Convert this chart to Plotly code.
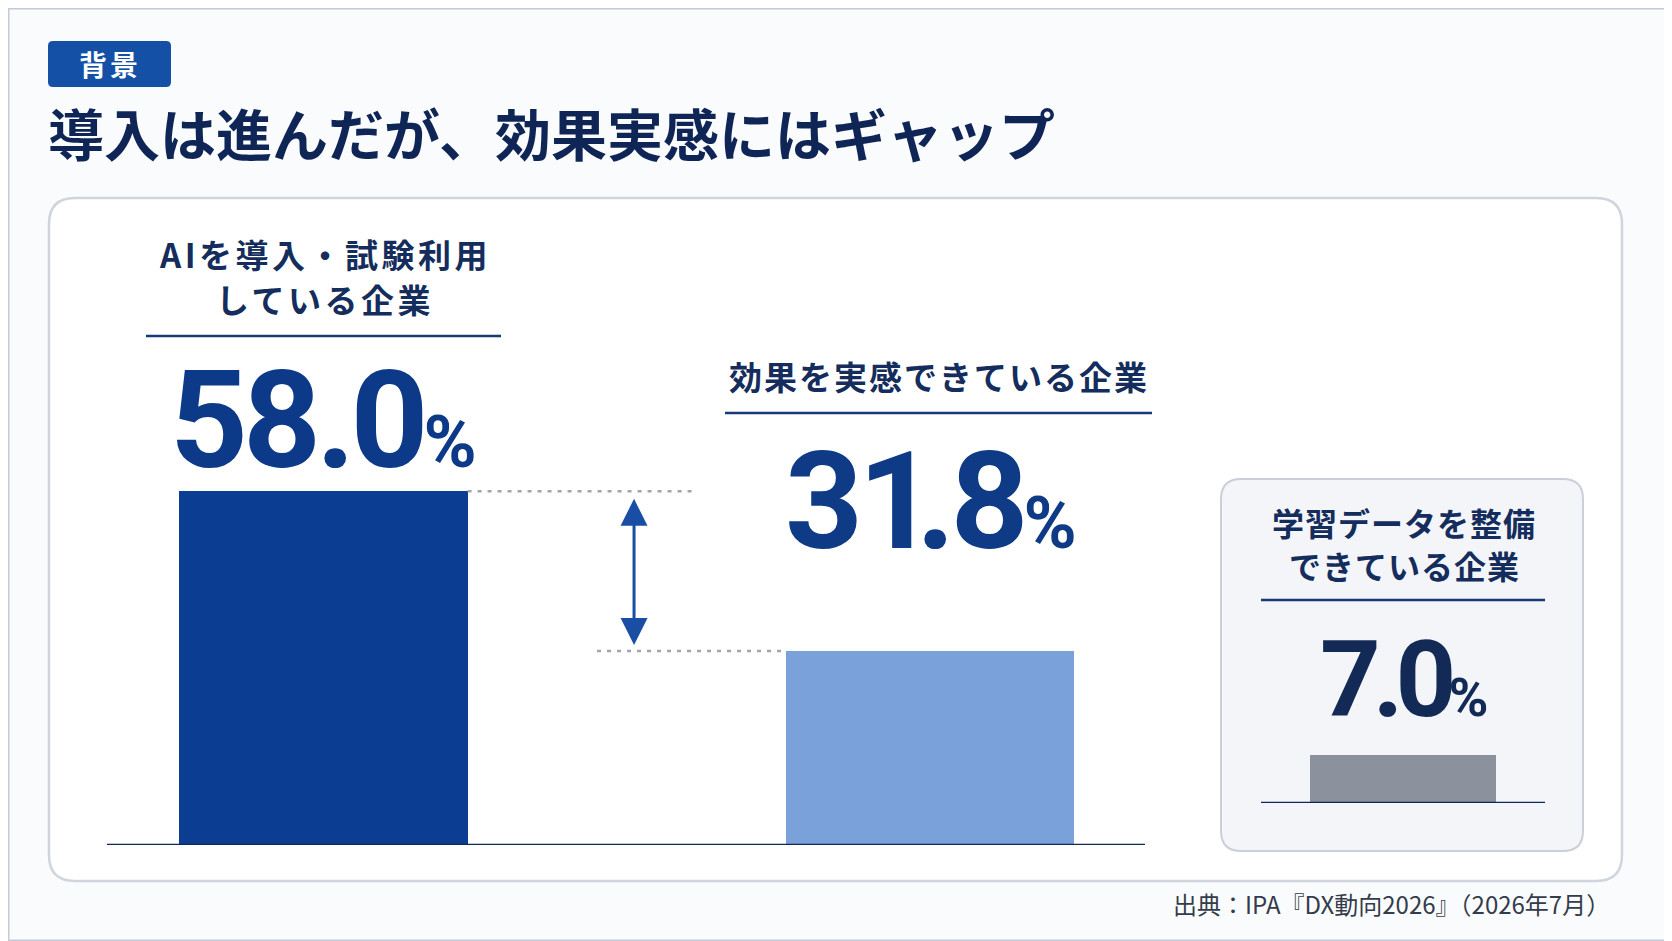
import plotly.graph_objects as go

# values
categories = ["AIを導入・試験利用している企業", "効果を実感できている企業"]
values = [58.0, 31.8]
bar_colors = ["#0b3d93", "#7aa1d9"]
small_category = ["学習データを整備できている企業"]
small_value = [7.0]

title = "導入は進んだが、効果実感にはギャップ"
tag = "背景"
label1 = ["AIを導入・試験利用", "している企業"]
label2 = "効果を実感できている企業"
label3 = ["学習データを整備", "できている企業"]
source = "出典：IPA『DX動向2026』（2026年7月）"

# the page body keeps its default 8px margin, so the figure is drawn
# 8px smaller and all positions below are given in window pixels
OFF = 8
W, H = 1672 - OFF, 941 - OFF
JP = "Noto Sans CJK JP"
NUM = "Roboto"
NAVY = "#142d5c"


def px(x):
    return (x - OFF) / W


def py(y):
    return 1 - (y - OFF) / H


def rrect(x0, y0, x1, y1, r):
    pts = [
        ("M", x0 + r, y0), ("L", x1 - r, y0), ("Q", x1, y0), ("", x1, y0 + r),
        ("L", x1, y1 - r), ("Q", x1, y1), ("", x1 - r, y1),
        ("L", x0 + r, y1), ("Q", x0, y1), ("", x0, y1 - r),
        ("L", x0, y0 + r), ("Q", x0, y0), ("", x0 + r, y0),
    ]
    return " ".join("%s%.5f,%.5f" % (c, px(x), py(y)) for c, x, y in pts) + " Z"


def spaced(s, ls):
    return '<span style="letter-spacing:%spx">%s</span>' % (ls, s)


def pct(v, big_ls, pct_size, one_ls=None):
    txt = "%.1f" % v
    if one_ls is None:
        num = spaced(txt, big_ls)
    else:
        # the "1" is a narrow glyph in the reference, tighten after it
        num = "".join(spaced(ch, one_ls if ch == "1" else big_ls) for ch in txt)
    return num + '<span style="font-size:%dpx">%%</span>' % pct_size


# main bar scale: 0 sits on the baseline at y=845px
scale = 6.1
ymax = 62
bw = 0.475

fig = go.Figure()
fig.add_trace(go.Bar(x=categories, y=values, width=bw,
                     marker=dict(color=bar_colors, line=dict(width=0)),
                     xaxis="x", yaxis="y", hoverinfo="skip"))
fig.add_trace(go.Bar(x=small_category, y=small_value, width=0.655,
                     marker=dict(color="#8b919d", line=dict(width=0)),
                     xaxis="x2", yaxis="y2", hoverinfo="skip"))

shapes = [
    # outer frame
    dict(type="rect", xref="paper", yref="paper", x0=0, y0=0, x1=1, y1=1,
         line=dict(color="#c4cbd6", width=3), fillcolor="rgba(0,0,0,0)", layer="below"),
    # main panel
    dict(type="path", xref="paper", yref="paper", path=rrect(49, 198, 1622, 881, 26),
         line=dict(color="#d0d5dd", width=2.5), fillcolor="#ffffff", layer="below"),
    # small panel
    dict(type="path", xref="paper", yref="paper", path=rrect(1221, 479, 1583, 851, 20),
         line=dict(color="#cbd0d8", width=2), fillcolor="#f3f5f8", layer="below"),
    # tag box
    dict(type="path", xref="paper", yref="paper", path=rrect(48, 41, 171, 87, 5),
         line=dict(width=0), fillcolor="#1450a6", layer="below"),
    # label underlines
    dict(type="line", xref="paper", yref="paper", x0=px(146), x1=px(501), y0=py(336), y1=py(336),
         line=dict(color="#17397a", width=2.5)),
    dict(type="line", xref="paper", yref="paper", x0=px(725), x1=px(1152), y0=py(413), y1=py(413),
         line=dict(color="#17397a", width=2.5)),
    dict(type="line", xref="paper", yref="paper", x0=px(1261), x1=px(1545), y0=py(600), y1=py(600),
         line=dict(color="#17397a", width=2.5)),
    # baselines
    dict(type="line", xref="paper", yref="y", x0=px(107), x1=px(1145), y0=0, y1=0,
         line=dict(color="#10295a", width=2.5)),
    dict(type="line", xref="x2 domain", yref="y2", x0=0, x1=1, y0=0, y1=0,
         line=dict(color="#10295a", width=2.5)),
    # dotted guides at bar tops
    dict(type="line", xref="x", yref="y", x0=bw / 2, x1=0.609, y0=values[0], y1=values[0],
         line=dict(color="#a0a4ab", width=2.5, dash="4px,6px")),
    dict(type="line", xref="x", yref="y", x0=0.451, x1=1 - bw / 2, y0=values[1], y1=values[1],
         line=dict(color="#a0a4ab", width=2.5, dash="4px,6px")),
]

annotations = [
    dict(text=spaced(tag, 3), x=px(110), y=py(64), font=dict(family=JP, size=28, color="white", weight=700)),
    dict(text=title, x=px(46), y=py(132), xanchor="left",
         font=dict(family=JP, size=56, color="#0e2556", weight=700)),
    dict(text=spaced(label1[0], 3.5), x=px(325), y=py(254),
         font=dict(family=JP, size=33, color=NAVY, weight=700)),
    dict(text=spaced(label1[1], 3.5), x=px(325), y=py(299),
         font=dict(family=JP, size=33, color=NAVY, weight=700)),
    dict(text=spaced(label2, 2), x=px(939), y=py(376),
         font=dict(family=JP, size=33, color=NAVY, weight=700)),
    dict(text=spaced(label3[0], 1), x=px(1404), y=py(522),
         font=dict(family=JP, size=32, color=NAVY, weight=700)),
    dict(text=spaced(label3[1], 1), x=px(1404), y=py(565),
         font=dict(family=JP, size=32, color=NAVY, weight=700)),
    dict(text=pct(values[0], -5, 72), x=px(323), y=py(421),
         font=dict(family=NUM, size=136, color="#0d3a88", weight=700)),
    dict(text=pct(values[1], -5, 72, one_ls=-20), x=px(931), y=py(502),
         font=dict(family=NUM, size=136, color="#0f3a86", weight=700)),
    dict(text=pct(small_value[0], -8, 54), x=px(1404), y=py(680),
         font=dict(family=NUM, size=106, color="#122a55", weight=700)),
    dict(text=source, x=px(1612), y=py(903), xanchor="right",
         font=dict(family=JP, size=24, color="#333c4b")),
    # gap arrow between the two bar tops
    dict(text="", x=0.512, y=values[1] + 1.0, ax=0.512, ay=values[0] - 1.0,
         xref="x", yref="y", axref="x", ayref="y", showarrow=True,
         arrowhead=2, startarrowhead=2, arrowside="end+start",
         arrowsize=1.8, arrowwidth=3, arrowcolor="#1a4ea5"),
]
for a in annotations:
    a.setdefault("xref", "paper")
    a.setdefault("yref", "paper")
    a.setdefault("showarrow", False)
    a.setdefault("xanchor", "center")
    a.setdefault("yanchor", "middle")

# category axis mapped so bar centres land at 323px and 930px
fig.update_layout(
    width=W, height=H,
    margin=dict(l=0, r=0, t=0, b=0),
    paper_bgcolor="#fafbfd",
    plot_bgcolor="rgba(0,0,0,0)",
    showlegend=False,
    bargap=0,
    xaxis=dict(domain=[px(107), px(1145)], range=[-0.357, 1.3545], visible=False, fixedrange=True),
    yaxis=dict(domain=[py(845), py(845) + ymax * scale / H], range=[0, ymax], visible=False),
    xaxis2=dict(domain=[px(1261), px(1545)], range=[-0.5, 0.5], visible=False, anchor="y2"),
    yaxis2=dict(domain=[py(803), py(803) + 10 * 6.86 / H], range=[0, 10], visible=False, anchor="x2"),
    shapes=shapes,
    annotations=annotations,
)

fig.write_html("out.html", config=dict(displayModeBar=False))
